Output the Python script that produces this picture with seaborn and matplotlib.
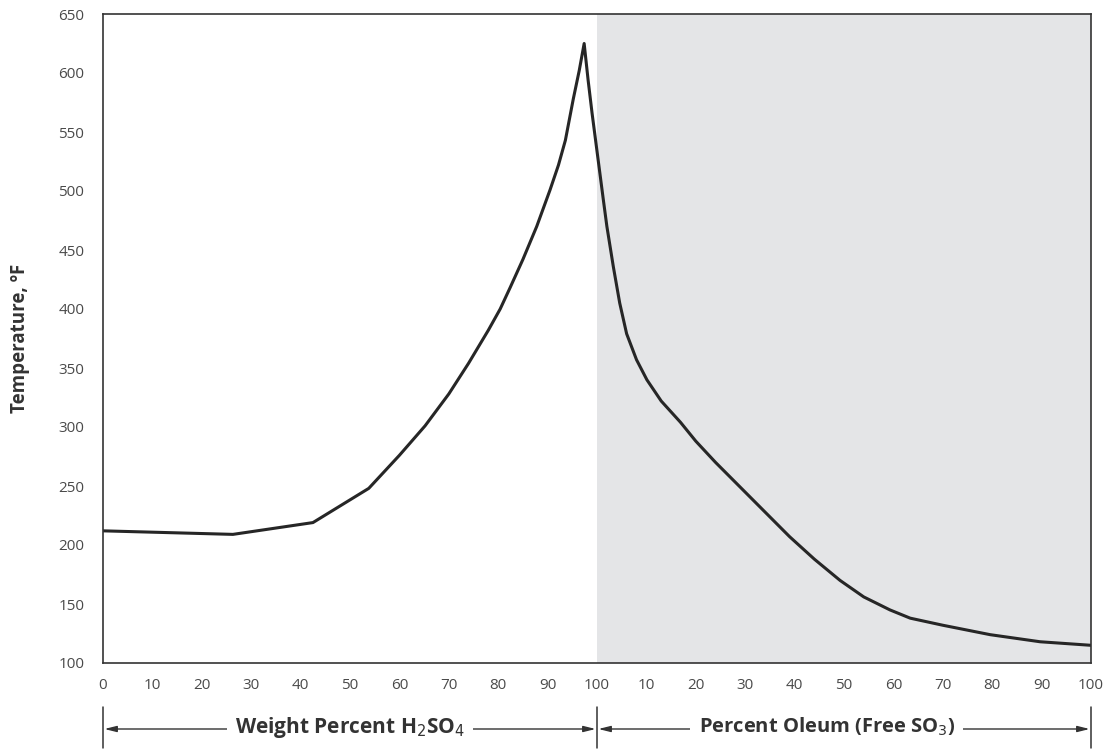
import numpy as np
import pandas as pd
import matplotlib
matplotlib.use("Agg")
import matplotlib.pyplot as plt
import matplotlib.transforms as mtransforms
import seaborn as sns

# ---- data (x: 0-100 = wt% H2SO4, 100-200 = 0-100 % oleum) ----
acid_x = [0, 26.3, 42.5, 53.8, 60, 65.2, 70, 74, 78, 80.4, 82.4, 85, 87.8, 90.5, 92.2, 93.6, 95.2, 96.4, 97.4]
acid_t = [212, 209, 219, 248, 276, 301, 328, 354, 382, 400, 418, 442, 470, 501, 522, 543, 578, 602, 625]
oleum_x = [97.4, 98.2, 99.0, 99.9, 101.3, 102.0, 103.3, 104.6, 106.0, 108.0, 110.1, 113.0, 116.9,
           120, 124, 129, 134, 139, 144, 149.2, 154, 159.3, 163.4, 170, 179.6, 189.7, 200]
oleum_t = [625, 594, 566, 537, 492, 470, 436, 405, 379, 357, 340, 322, 304,
           288, 270, 249, 228, 207, 188, 170, 156, 145, 138, 132, 124, 118, 115]

x_ticks = list(range(0, 201, 10))
x_tick_labels = [str(v) for v in range(0, 101, 10)] + [str(v) for v in range(10, 101, 10)]
y_ticks = list(range(100, 651, 50))

df = pd.DataFrame({"x": acid_x + oleum_x[1:], "t": acid_t + oleum_t[1:]})

sns.set_theme(style="white")
plt.rcParams["font.family"] = ["Open Sans", "DejaVu Sans"]

fig = plt.figure(figsize=(11.16, 7.52), dpi=100)
ax = fig.add_axes([103 / 1116, 1 - 663 / 752, (1091 - 103) / 1116, (663 - 14) / 752])

ax.axvspan(100, 200, color="#e4e5e7", zorder=0, lw=0)
sns.lineplot(data=df, x="x", y="t", sort=False, color="#262626", lw=2.2, ax=ax,
             estimator=None)

ax.set_xlim(0, 200)
ax.set_ylim(100, 650)
ax.set_xticks(x_ticks)
ax.set_xticklabels(x_tick_labels)
ax.set_yticks(y_ticks)
ax.tick_params(axis="both", direction="in", length=15, width=1.1, color="#333333",
               labelsize=11, labelcolor="#4a4a4a")
ax.tick_params(axis="x", pad=11)
ax.tick_params(axis="y", pad=13.5)
for s in ax.spines.values():
    s.set_color("#333333")
    s.set_linewidth(1.2)
ax.set_xlabel("")
ax.set_ylabel("Temperature, ºF", fontsize=13.5, fontweight="bold", color="#333333", labelpad=20)

# ---- range annotations below the axis ----
trans = mtransforms.blended_transform_factory(ax.transData, fig.transFigure)
y_arrow = 1 - 729 / 752
for xv in (0, 100, 200):
    ax.plot([xv, xv], [1 - 707 / 752, 1 - 748 / 752], transform=trans, color="#333333",
            lw=1.1, clip_on=False)
arrow_kw = dict(arrowstyle="<|-|>,head_length=0.6,head_width=0.15", color="#333333", lw=1.0,
                shrinkA=1, shrinkB=1)
for (x0, x1) in ((0, 100), (100, 200)):
    ax.annotate("", xy=(x0, y_arrow), xytext=(x1, y_arrow), xycoords=trans, textcoords=trans,
                arrowprops=arrow_kw, annotation_clip=False)
ax.text(50, 1 - 727 / 752, "Weight Percent H$_2$SO$_4$", transform=trans, ha="center", va="center",
        fontsize=15, fontweight="bold", color="#333333",
        bbox=dict(facecolor="white", edgecolor="none", pad=6))
ax.text(146.5, 1 - 727 / 752, "Percent Oleum (Free SO$_3$)", transform=trans, ha="center", va="center",
        fontsize=14.5, fontweight="bold", color="#333333",
        bbox=dict(facecolor="white", edgecolor="none", pad=6))

fig.savefig("out.png", dpi=100, facecolor="white")
